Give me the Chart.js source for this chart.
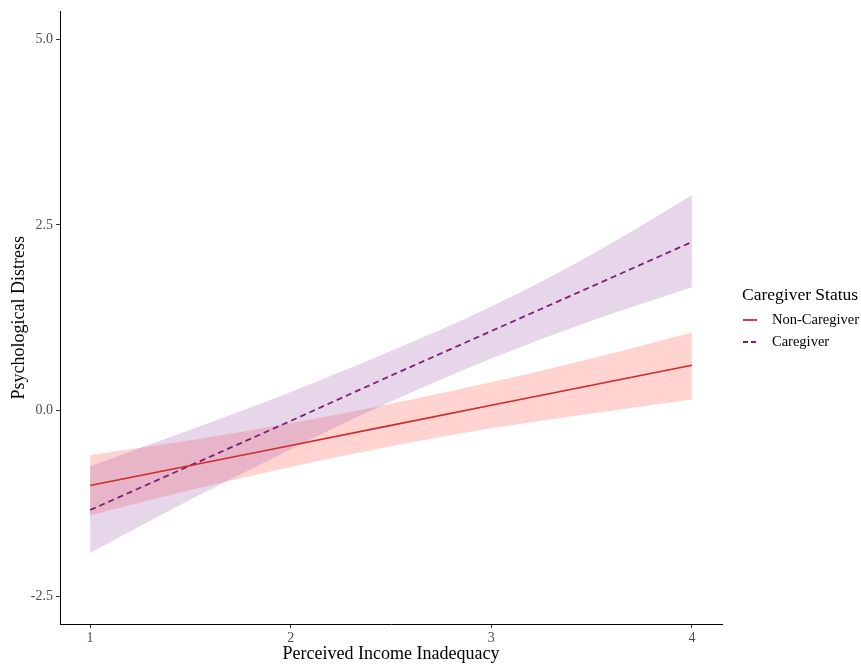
<!DOCTYPE html>
<html>
<head>
<meta charset="utf-8">
<script src="https://cdn.jsdelivr.net/npm/chart.js@4.4.1/dist/chart.umd.min.js"></script>
<style>
  html, body { margin: 0; padding: 0; background: #fff; }
  #wrap { width: 861px; height: 668px; position: relative; }
</style>
</head>
<body>
<div id="wrap"><canvas id="c" width="861" height="668"></canvas></div>
<script>
// ---- data ----
const xVals = [1, 1.5, 2, 2.5, 3, 3.5, 4];

const nonCgFit   = [-1.01, -0.74, -0.47, -0.20, 0.07, 0.34, 0.61];
const nonCgLower = [-1.41, -1.07, -0.76, -0.48, -0.24, -0.04, 0.15];
const nonCgUpper = [-0.60, -0.40, -0.17, 0.09, 0.38, 0.70, 1.05];

const cgFit   = [-1.34, -0.74, -0.14, 0.47, 1.07, 1.67, 2.27];
const cgLower = [-1.92, -1.20, -0.52, 0.12, 0.70, 1.21, 1.66];
const cgUpper = [-0.75, -0.26, 0.25, 0.80, 1.40, 2.10, 2.90];

const xTicks = [1, 2, 3, 4];
const yTicks = [-2.5, 0.0, 2.5, 5.0];

const seriesNames = ["Non-Caregiver", "Caregiver"];
const legendTitle = "Caregiver Status";
const xTitle = "Perceived Income Inadequacy";
const yTitle = "Psychological Distress";

// ---- helpers ----
const pts = (ys) => xVals.map((x, i) => ({ x: x, y: ys[i] }));

const RED = '#D02A2A';
const PURPLE = '#7E1F78';
const PINK_FILL = 'rgba(255,110,100,0.30)';
const LAV_FILL = 'rgba(160,90,170,0.25)';
const SERIF = '"Liberation Serif", "Times New Roman", serif';

const legendPlugin = {
  id: 'ggLegend',
  afterDraw(chart) {
    const ctx = chart.ctx;
    ctx.save();
    ctx.fillStyle = '#000';
    ctx.textBaseline = 'middle';
    ctx.textAlign = 'left';
    ctx.font = '17.5px ' + SERIF;
    ctx.fillText(legendTitle, 742, 295);
    const items = [
      { name: seriesNames[0], color: RED, dash: [], y: 320 },
      { name: seriesNames[1], color: PURPLE, dash: [5, 3], y: 342 }
    ];
    items.forEach(it => {
      ctx.beginPath();
      ctx.setLineDash(it.dash);
      ctx.strokeStyle = it.color;
      ctx.lineWidth = 1.8;
      ctx.moveTo(743, it.y);
      ctx.lineTo(757, it.y);
      ctx.stroke();
      ctx.setLineDash([]);
      ctx.fillStyle = '#000';
      ctx.font = '14.5px ' + SERIF;
      ctx.fillText(it.name, 772, it.y);
    });
    ctx.restore();
  }
};

const ribbon = (label, ys, fill, bg) => ({
  label: label, data: pts(ys), borderWidth: 0, borderColor: 'transparent',
  pointRadius: 0, fill: fill, backgroundColor: bg, order: 2,
  cubicInterpolationMode: 'monotone'
});

new Chart(document.getElementById('c'), {
  type: 'line',
  data: {
    datasets: [
      ribbon('cgLower', cgLower, false, 'transparent'),
      ribbon('cgUpper', cgUpper, '-1', LAV_FILL),
      ribbon('ncLower', nonCgLower, false, 'transparent'),
      ribbon('ncUpper', nonCgUpper, '-1', PINK_FILL),
      { label: seriesNames[0], data: pts(nonCgFit), borderColor: RED, borderWidth: 1.6, pointRadius: 0, fill: false, order: 0 },
      { label: seriesNames[1], data: pts(cgFit), borderColor: PURPLE, borderWidth: 1.8, borderDash: [6, 4], pointRadius: 0, fill: false, order: 0 }
    ]
  },
  options: {
    responsive: false,
    animation: false,
    devicePixelRatio: 1,
    layout: { padding: { top: 10, right: 139, left: 0, bottom: 0 } },
    plugins: {
      legend: { display: false },
      tooltip: { enabled: false },
      filler: { drawTime: 'beforeDatasetsDraw' }
    },
    scales: {
      x: {
        type: 'linear',
        min: 0.85,
        max: 4.15,
        afterBuildTicks: (s) => { s.ticks = xTicks.map(v => ({ value: v })); },
        afterFit: (s) => { s.height = 44; },
        ticks: {
          color: '#4D4D4D',
          font: { family: SERIF, size: 14 },
          padding: 2,
          maxRotation: 0,
          callback: (v) => String(v)
        },
        grid: { display: true, drawOnChartArea: false, drawTicks: true, tickLength: 4, color: '#333333' },
        border: { display: true, color: '#000000', width: 1 },
        title: { display: true, text: xTitle, color: '#000', font: { family: SERIF, size: 18 }, padding: { top: 0, bottom: 3 } }
      },
      y: {
        type: 'linear',
        min: -2.875,
        max: 5.375,
        afterBuildTicks: (s) => { s.ticks = yTicks.map(v => ({ value: v })); },
        afterFit: (s) => { s.width = 60; },
        ticks: {
          color: '#4D4D4D',
          font: { family: SERIF, size: 14 },
          padding: 3,
          callback: (v) => Number(v).toFixed(1)
        },
        grid: { display: true, drawOnChartArea: false, drawTicks: true, tickLength: 4, color: '#333333' },
        border: { display: true, color: '#000000', width: 1 },
        title: { display: true, text: yTitle, color: '#000', font: { family: SERIF, size: 18 }, padding: { top: 8, bottom: 0 } }
      }
    }
  },
  plugins: [legendPlugin]
});
</script>
</body>
</html>
